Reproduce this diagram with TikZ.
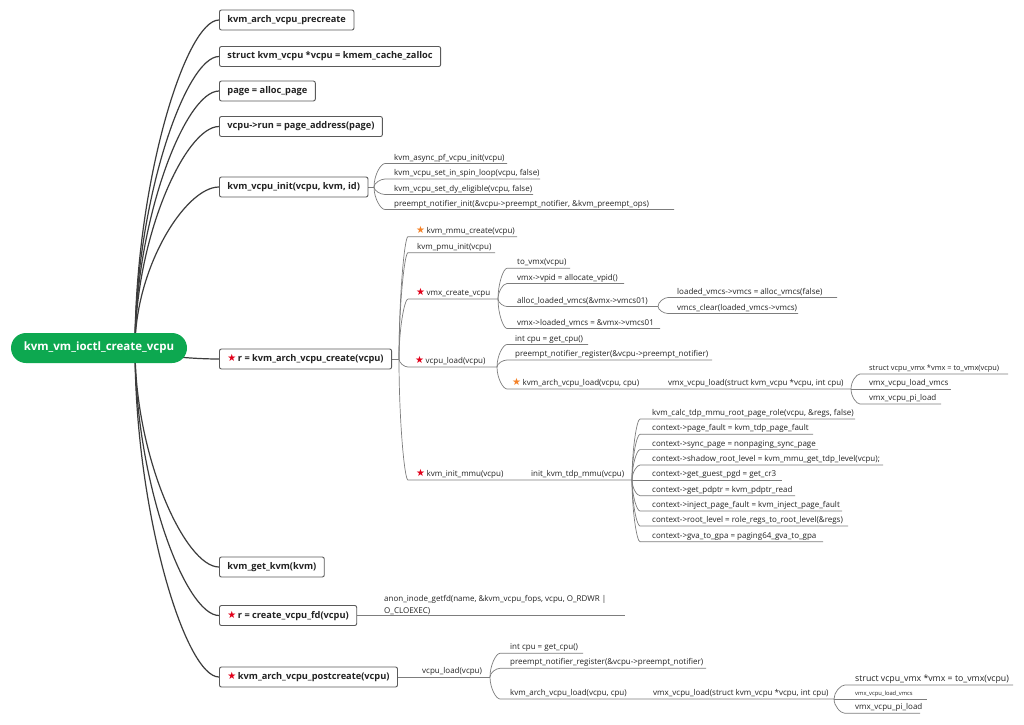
\documentclass[tikz,border=0pt]{standalone}
\usepackage{fontspec}
\setmainfont{Open Sans}
\newfontfamily\symfont{DejaVu Sans}
\usetikzlibrary{calc}

\definecolor{rootgreen}{RGB}{13,168,80}
\definecolor{starred}{RGB}{226,0,26}
\definecolor{starorange}{RGB}{245,130,40}
\definecolor{trunkgray}{RGB}{60,60,60}
\definecolor{linegray}{RGB}{125,125,125}
\definecolor{boxedge}{RGB}{90,90,90}
\definecolor{textdark}{RGB}{35,35,35}

\pgfdeclarelayer{paper}
\pgfdeclarelayer{wires}
\pgfsetlayers{paper,wires,main}

% priority markers
\newcommand\rstar{{\symfont\fontsize{10}{10}\selectfont\color{starred}★}\hspace{1.5pt}}
\newcommand\ostar{{\symfont\fontsize{10}{10}\selectfont\color{starorange}★}\hspace{1.5pt}}

% a leaf: underline from (#2,#3) to (#4,#3), text starting at x=#5
\newcommand\leaf[6]{%
  \coordinate (#1-s) at (#2,#3);
  \coordinate (#1-e) at (#4,#3);
  \node[leaftext] (#1) at (#5,#3-3.5) {#6};}

% curved branch from a fork point into a leaf's underline
\newcommand\branch[2]{%
  \draw[sub] (#1) .. controls ($(#1)!0.5!(#1|-#2-s)$) and ($(#2-s)!0.4!(#1|-#2-s)$) .. (#2-s) -- (#2-e);}

\tikzset{
  trunk/.style={draw=trunkgray, line width=1.2pt},
  sub/.style={draw=linegray, line width=0.7pt},
  topic/.style={draw=boxedge, line width=0.9pt, fill=white, rounded corners=2pt,
    font=\fontsize{9.25}{11}\selectfont\bfseries, text=textdark, inner xsep=8pt,
    inner ysep=0pt, minimum height=20pt, anchor=west},
  rootnode/.style={fill=rootgreen, text=white, rounded corners=15pt,
    font=\fontsize{11.5}{14}\selectfont\bfseries, minimum width=176pt, minimum height=30pt},
  leaftext/.style={font=\fontsize{8}{10}\selectfont, text=textdark, inner sep=0pt, anchor=base west},
}

\begin{document}
\begin{tikzpicture}[x=1pt, y=-1pt]
\useasboundingbox (0,0) rectangle (1024,724);
\begin{pgfonlayer}{paper}
  \fill[white] (0,0) rectangle (1024,724);
\end{pgfonlayer}

% central topic
\node[rootnode] (root) at (99,348) {kvm\_vm\_ioctl\_create\_vcpu};
\coordinate (hub) at (135,348);

% main steps
\node[topic] (b1) at (219,20) {kvm\_arch\_vcpu\_precreate};
\node[topic] (b2) at (219,56.5) {struct kvm\_vcpu *vcpu = kmem\_cache\_zalloc};
\node[topic] (b3) at (219,91) {page = alloc\_page};
\node[topic] (b4) at (219,126.5) {vcpu->run = page\_address(page)};
\node[topic] (b5) at (219,187) {kvm\_vcpu\_init(vcpu, kvm, id)};
\node[topic] (b6) at (219,359) {\rstar r = kvm\_arch\_vcpu\_create(vcpu)};
\node[topic] (b7) at (219,567) {kvm\_get\_kvm(kvm)};
\node[topic] (b8) at (219,615.5) {\rstar r = create\_vcpu\_fd(vcpu)};
\node[topic] (b9) at (219,677) {\rstar kvm\_arch\_vcpu\_postcreate(vcpu)};

% kvm_vcpu_init
\coordinate (b5f) at (374,187);
\leaf{k1}{385}{163.5}{507}{394}{kvm\_async\_pf\_vcpu\_init(vcpu)}
\leaf{k2}{385}{179}{540}{394}{kvm\_vcpu\_set\_in\_spin\_loop(vcpu, false)}
\leaf{k3}{385}{194.5}{533}{394}{kvm\_vcpu\_set\_dy\_eligible(vcpu, false)}
\leaf{k4}{385}{209.5}{674}{394}{preempt\_notifier\_init(\&vcpu->preempt\_notifier, \&kvm\_preempt\_ops)}

% kvm_arch_vcpu_create
\coordinate (b6f) at (399,359);
\leaf{c1}{408}{236.7}{517}{416}{\ostar kvm\_mmu\_create(vcpu)}
\leaf{c2}{408}{252.7}{495}{417}{kvm\_pmu\_init(vcpu)}
\leaf{c3}{408}{299}{498}{416}{\rstar vmx\_create\_vcpu}
\leaf{c4}{408}{367}{497}{415}{\rstar vcpu\_load(vcpu)}
\leaf{c5}{408}{480}{632}{416}{\rstar kvm\_init\_mmu(vcpu)}
\node[leaftext] (c5b) at (531,476.5) {init\_kvm\_tdp\_mmu(vcpu)};

% vmx_create_vcpu
\leaf{d1}{507}{268.3}{570}{517}{to\_vmx(vcpu)}
\leaf{d2}{507}{283.5}{624}{517}{vmx->vpid = allocate\_vpid()}
\leaf{d3}{507}{306.5}{658}{517}{alloc\_loaded\_vmcs(\&vmx->vmcs01)}
\leaf{d4}{507}{328.5}{660}{517}{vmx->loaded\_vmcs = \&vmx->vmcs01}
\leaf{e1}{668}{297.5}{837}{677}{loaded\_vmcs->vmcs = alloc\_vmcs(false)}
\leaf{e2}{668}{313.5}{798}{677}{vmcs\_clear(loaded\_vmcs->vmcs)}

% vcpu_load
\leaf{f1}{507}{344.5}{588}{515}{int cpu = get\_cpu()}
\leaf{f2}{507}{360}{712}{515}{preempt\_notifier\_register(\&vcpu->preempt\_notifier)}
\leaf{f3}{507}{389}{851}{512}{\ostar kvm\_arch\_vcpu\_load(vcpu, cpu)}
\node[leaftext] (f3b) at (668,385.5) {vmx\_vcpu\_load(struct kvm\_vcpu *vcpu, int cpu)};
\leaf{g1}{860}{374}{1008}{869}{\fontsize{7.4}{9}\selectfont struct vcpu\_vmx *vmx = to\_vmx(vcpu)}
\leaf{g2}{860}{389}{951}{869}{vmx\_vcpu\_load\_vmcs}
\leaf{g3}{860}{404}{941}{869}{vmx\_vcpu\_pi\_load}

% init_kvm_tdp_mmu
\leaf{h1}{640}{419}{855}{652}{kvm\_calc\_tdp\_mmu\_root\_page\_role(vcpu, \&regs, false)}
\leaf{h2}{640}{434.3}{813}{652}{context->page\_fault = kvm\_tdp\_page\_fault}
\leaf{h3}{640}{449.6}{818}{652}{context->sync\_page = nonpaging\_sync\_page}
\leaf{h4}{640}{465}{883}{652}{context->shadow\_root\_level = kvm\_mmu\_get\_tdp\_level(vcpu);}
\leaf{h5}{640}{480}{782}{652}{context->get\_guest\_pgd = get\_cr3}
\leaf{h6}{640}{495.7}{795}{652}{context->get\_pdptr = kvm\_pdptr\_read}
\leaf{h7}{640}{511}{842}{652}{context->inject\_page\_fault = kvm\_inject\_page\_fault}
\leaf{h8}{640}{526}{848}{652}{context->root\_level = role\_regs\_to\_root\_level(\&regs)}
\leaf{h9}{640}{541.7}{823}{652}{context->gva\_to\_gpa = paging64\_gva\_to\_gpa}

% create_vcpu_fd
\coordinate (an-e) at (625,615.5);
\node[leaftext, anchor=south west, align=left, font=\fontsize{8}{12}\selectfont]
  (anon) at (384,614.5) {anon\_inode\_getfd(name, \&kvm\_vcpu\_fops, vcpu, O\_RDWR |\\O\_CLOEXEC)};

% kvm_arch_vcpu_postcreate
\coordinate (v9-e) at (490,677);
\node[leaftext] (v9) at (422,673.5) {vcpu\_load(vcpu)};
\leaf{i1}{500}{653.3}{583}{510}{int cpu = get\_cpu()}
\leaf{i2}{500}{668.3}{706}{510}{preempt\_notifier\_register(\&vcpu->preempt\_notifier)}
\leaf{i3}{500}{699}{834}{510}{kvm\_arch\_vcpu\_load(vcpu, cpu)}
\node[leaftext] (i3b) at (653,695.5) {vmx\_vcpu\_load(struct kvm\_vcpu *vcpu, int cpu)};
\leaf{j1}{845}{685}{1013}{855}{\fontsize{8.75}{11}\selectfont struct vcpu\_vmx *vmx = to\_vmx(vcpu)}
\leaf{j2}{845}{699}{927}{855}{\fontsize{5.8}{7}\selectfont vmx\_vcpu\_load\_vmcs}
\leaf{j3}{845}{713.3}{920}{855}{vmx\_vcpu\_pi\_load}

\begin{pgfonlayer}{wires}
  \foreach \b in {b1,b2,b3,b4,b5,b6,b7,b8,b9}
    {\draw[trunk] (hub) .. controls ($(hub)!0.5!(hub|-\b.west)$) and ($(\b.west)!0.4!(hub|-\b.west)$) .. (\b.west);}
  \draw[sub] (b5.east) -- (b5f);
  \foreach \l in {k1,k2,k3,k4} {\branch{b5f}{\l}}
  \draw[sub] (b6.east) -- (b6f);
  \foreach \l in {c1,c2,c3,c4,c5} {\branch{b6f}{\l}}
  \foreach \l in {d1,d2,d3,d4} {\branch{c3-e}{\l}}
  \foreach \l in {e1,e2} {\branch{d3-e}{\l}}
  \foreach \l in {f1,f2,f3} {\branch{c4-e}{\l}}
  \foreach \l in {g1,g2,g3} {\branch{f3-e}{\l}}
  \foreach \l in {h1,h2,h3,h4,h5,h6,h7,h8,h9} {\branch{c5-e}{\l}}
  \draw[sub] (b8.east) -- (an-e);
  \draw[sub] (b9.east) -- (v9-e);
  \foreach \l in {i1,i2,i3} {\branch{v9-e}{\l}}
  \foreach \l in {j1,j2,j3} {\branch{i3-e}{\l}}
\end{pgfonlayer}
\end{tikzpicture}
\end{document}
